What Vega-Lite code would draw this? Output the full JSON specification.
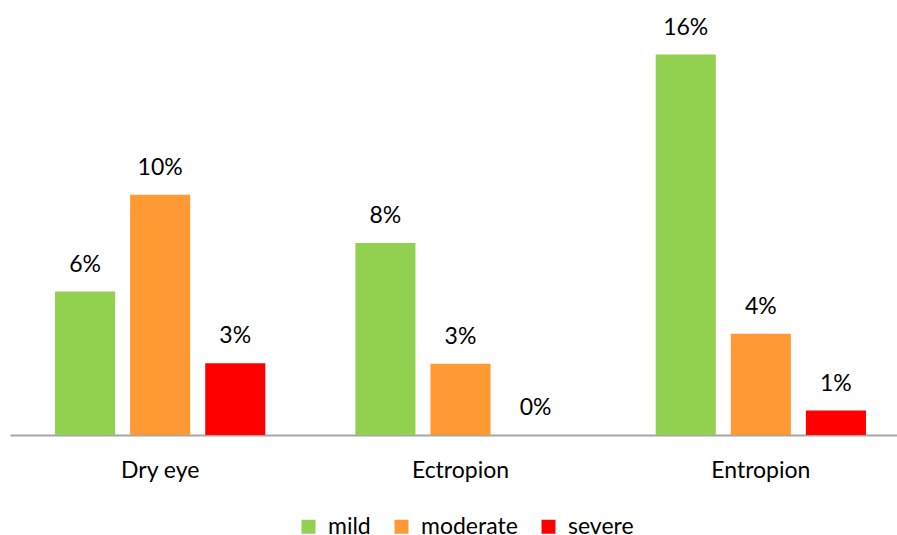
{
  "$schema": "https://vega.github.io/schema/vega-lite/v6.json",
  "autosize": {"type": "none"},
  "width": 887,
  "height": 428,
  "padding": {"left": 10, "top": 7, "right": 0, "bottom": 100},
  "background": "white",
  "data": {
    "values": [
      {"category": "Dry eye", "severity": "mild", "value": 0.0603},
      {"category": "Dry eye", "severity": "moderate", "value": 0.101},
      {"category": "Dry eye", "severity": "severe", "value": 0.0302},
      {"category": "Ectropion", "severity": "mild", "value": 0.0807},
      {"category": "Ectropion", "severity": "moderate", "value": 0.030},
      {"category": "Ectropion", "severity": "severe", "value": 0.0},
      {"category": "Entropion", "severity": "mild", "value": 0.16},
      {"category": "Entropion", "severity": "moderate", "value": 0.0426},
      {"category": "Entropion", "severity": "severe", "value": 0.0103}
    ]
  },
  "encoding": {
    "x": {
      "field": "category", "type": "nominal", "sort": null,
      "scale": {"range": [0, 901], "paddingInner": 0, "paddingOuter": 0},
      "axis": {"title": null, "labelAngle": 0, "ticks": false, "domainColor": "#A6A6A6", "domainWidth": 2,
               "labelFont": "Lato", "labelFontSize": 23, "labelColor": "#000000", "labelPadding": 24, "grid": false}
    },
    "xOffset": {
      "field": "severity", "type": "nominal", "sort": ["mild", "moderate", "severe"],
      "scale": {"paddingInner": 0.2, "paddingOuter": 0.6}
    },
    "y": {
      "field": "value", "type": "quantitative",
      "scale": {"domain": [0, 0.18], "nice": false},
      "axis": null
    }
  },
  "layer": [
    {
      "mark": {"type": "bar"},
      "encoding": {
        "color": {
          "field": "severity", "type": "nominal",
          "scale": {"domain": ["mild", "moderate", "severe"], "range": ["#92D050", "#FF9933", "#FF0000"]},
          "legend": {
            "title": null, "orient": "none", "legendX": 287, "legendY": 508, "direction": "horizontal",
            "symbolType": "square", "symbolSize": 196, "symbolStrokeWidth": 0, "symbolOpacity": 1,
            "labelFont": "Lato", "labelFontSize": 23, "labelColor": "#000000",
            "labelOffset": 8, "columnPadding": 19
          }
        }
      }
    },
    {
      "mark": {"type": "text", "baseline": "bottom", "dy": -15, "font": "Lato", "fontSize": 23, "color": "#000000"},
      "encoding": {
        "text": {"field": "value", "type": "quantitative", "format": ".0%"}
      }
    }
  ],
  "config": {"view": {"stroke": null}}
}
